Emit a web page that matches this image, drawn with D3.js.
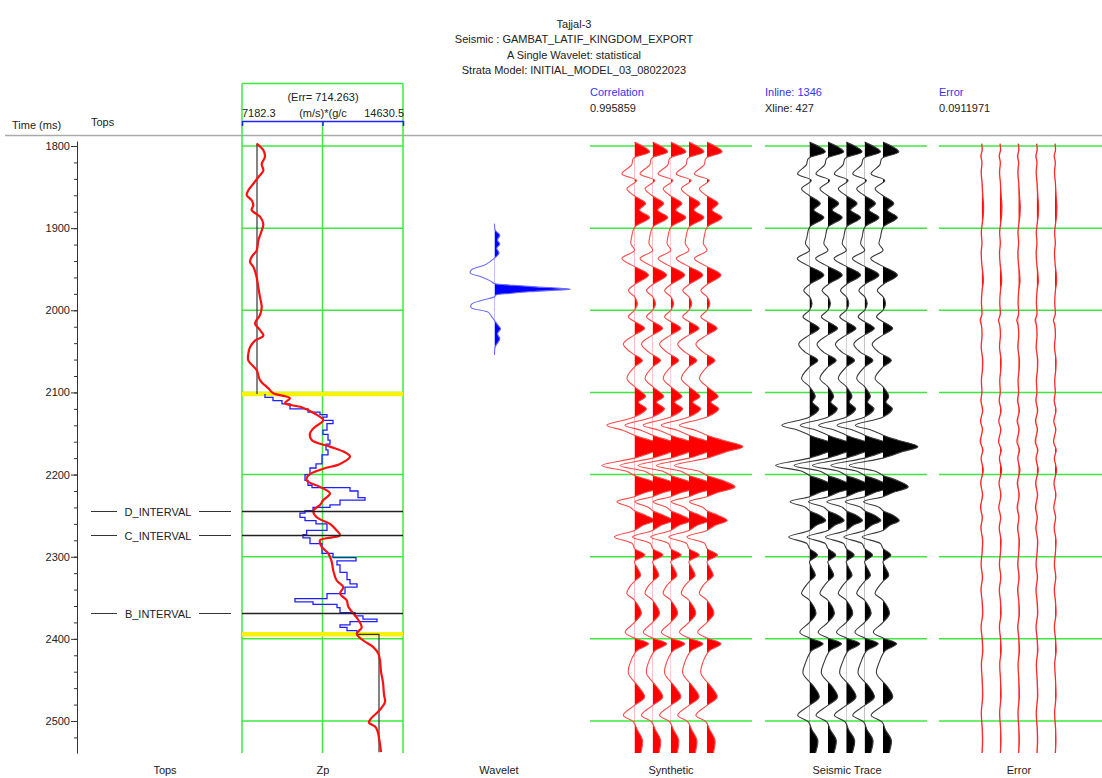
<!DOCTYPE html>
<html>
<head>
<meta charset="utf-8">
<script src="https://cdn.jsdelivr.net/npm/d3@7"></script>
<style>
  body { margin: 0; background: #fff; }
  text { font-family: "Liberation Sans", Arial, sans-serif; font-size: 11px; fill: #222; }
</style>
</head>
<body>
<div id="chart"></div>
<script>
// ---- data ----
const titleLines = ["Tajjal-3", "Seismic : GAMBAT_LATIF_KINGDOM_EXPORT", "A Single Wavelet: statistical", "Strata Model: INITIAL_MODEL_03_08022023"];
const majorTicks = [1800, 1900, 2000, 2100, 2200, 2300, 2400, 2500];
const trackNames = ["Tops", "Zp", "Wavelet", "Synthetic", "Seismic Trace", "Error"];

const topNames = ["D_INTERVAL", "C_INTERVAL", "B_INTERVAL"];
const topTimes = [2244, 2273, 2368];
const windowTimes = [2102, 2394.5];

const zpMin = 7182.3, zpMax = 14630.5, zpErr = 714.263;
const corrValue = "0.995859", inlineNo = 1346, xlineNo = 427, errValue = "0.0911971";

// inverted Zp (red)
const zpTime = [1797, 1805, 1813, 1822, 1830, 1838, 1846, 1854, 1860, 1866, 1872, 1878, 1886, 1895, 1903, 1915, 1927, 1935, 1941, 1947,
  1960, 1972, 1984, 1996, 2006, 2016, 2024, 2031, 2037, 2045, 2053, 2061, 2073, 2085, 2095, 2101, 2107, 2113, 2118, 2126,
  2134, 2142, 2150, 2158, 2166, 2172, 2178, 2187, 2193, 2201, 2207, 2215, 2223, 2231, 2237, 2244, 2252, 2260, 2268, 2274,
  2280, 2288, 2296, 2306, 2317, 2329, 2337, 2345, 2353, 2361, 2369, 2377, 2386, 2394, 2402, 2410, 2418, 2426, 2440, 2453,
  2468, 2477, 2487, 2497, 2502, 2508, 2524, 2538];
const zpInv = [7862, 8168, 8246, 8094, 8168, 7936, 7705, 7474, 7400, 7631, 7705, 7631, 8015, 8168, 8094, 7936, 7862, 7631, 7552, 7705,
  7862, 7936, 8015, 8094, 8015, 7784, 8015, 8168, 7784, 7552, 7474, 7474, 7862, 8015, 8399, 8630, 9403, 9171, 9944, 10559,
  10943, 10559, 10328, 10407, 11253, 11869, 12179, 11716, 10943, 10249, 10175, 10791, 11253, 10943, 10791, 10481, 10638, 11253, 11563, 11716,
  10791, 10869, 11174, 11332, 11406, 11563, 11869, 11716, 12026, 12100, 12331, 12563, 12720, 12489, 12794, 13256, 13488, 13566, 13613, 13705,
  13752, 13798, 13543, 13150, 13057, 13381, 13543, 13613];

// initial model inside the window (blue, blocky)
const modelTime = [2102, 2106, 2110, 2114, 2120, 2124, 2127, 2130, 2134, 2138, 2146, 2151, 2158, 2163, 2170, 2176, 2187, 2192, 2200, 2207,
  2213, 2216, 2220, 2228, 2231, 2237, 2240, 2244, 2247, 2252, 2256, 2260, 2268, 2273, 2277, 2284, 2296, 2301, 2305, 2310,
  2319, 2328, 2333, 2337, 2345, 2351, 2355, 2358, 2362, 2368, 2372, 2376, 2379, 2383, 2386, 2390, 2394.5];
const modelZp = [8246, 8616, 9033, 9403, 10236, 10791, 11114, 10929, 11392, 11114, 10929, 11161, 11253, 11068, 11161, 10883, 10606, 10328, 10097, 10236,
  10421, 12179, 12548, 12872, 11716, 11253, 10467, 10097, 9865, 10097, 10606, 11114, 10175, 10004, 10328, 10883, 11392, 12456, 11577, 11716,
  12040, 12179, 12502, 11947, 11114, 9634, 10467, 11577, 11716, 12410, 12780, 13427, 12179, 11716, 12040, 12502, 12502];

// well log outside the window (black)
const logTimeA = [1797, 2102], logZpA = [7876, 7876];
const logTimeB = [2394.5, 2394.5, 2538], logZpB = [12502, 13520, 13520];

// statistical wavelet (lag ms, normalised amplitude)
const waveLag = [-80, -72, -66, -60, -55, -50, -44, -38, -30, -24, -20, -15, -10, -7, -5, -3, -1, 0, 1, 3,
  5, 7, 9, 13, 18, 22, 28, 33, 38, 44, 48, 54, 60, 64, 70, 80];
const waveAmp = [0, 0.01, 0.07, 0.04, 0.07, 0.03, 0.06, 0, -0.12, -0.30, -0.32, -0.17, -0.05, 0, 0.25, 0.55, 0.9, 1.0, 0.8, 0.45,
  0.2, 0.02, 0, -0.15, -0.30, -0.31, -0.08, -0.04, 0, 0.05, 0.08, 0.04, 0.07, 0.05, 0.01, 0];

// synthetic and seismic traces (time ms, normalised amplitude)
const traceTime = [1795, 1807, 1815, 1823, 1834, 1842, 1852, 1860, 1870, 1878, 1887, 1899, 1911, 1919, 1927, 1937, 1945, 1957, 1968, 1976,
  1984, 1992, 2000, 2008, 2022, 2030, 2041, 2051, 2061, 2069, 2083, 2093, 2105, 2112, 2120, 2130, 2140, 2146, 2152, 2158,
  2166, 2172, 2180, 2189, 2196, 2201, 2207, 2215, 2222, 2227, 2233, 2240, 2244, 2250, 2256, 2262, 2268, 2276, 2284, 2290,
  2298, 2306, 2312, 2323, 2330, 2337, 2345, 2353, 2369, 2380, 2392, 2399, 2406, 2414, 2418, 2428, 2442, 2458, 2471, 2481,
  2493, 2501, 2511, 2523, 2540];
const synthAmp = [0, 0.42, -0.03, -0.08, -0.35, 0.06, -0.21, -0.03, 0.31, 0.14, 0.42, 0, -0.08, -0.10, 0, -0.35, -0.08, 0.39, 0.02, -0.17,
  0.01, 0.08, 0, -0.17, 0.28, 0, -0.31, -0.11, 0.22, 0, -0.21, 0, 0.31, 0.11, 0.33, 0, -0.77, -0.33, 0, 0.42,
  1.0, 0.56, 0, -0.91, -0.22, 0, 0.42, 0.78, 0.28, 0, -0.49, -0.11, 0, 0.33, 0.56, 0.22, 0, -0.56, -0.06, 0,
  0.29, 0, 0.06, 0.17, 0, -0.14, -0.21, 0, 0.19, 0, -0.26, 0, 0.39, 0.08, 0, -0.11, -0.17, 0.11, 0.28, 0,
  -0.31, -0.03, 0.08, 0.22, 0.17];
const seisAmp = [0, 0.44, -0.03, -0.09, -0.33, 0.05, -0.22, -0.02, 0.30, 0.12, 0.40, 0, -0.07, -0.11, 0, -0.34, -0.07, 0.40, 0.02, -0.16,
  0.01, 0.07, 0, -0.18, 0.27, 0, -0.30, -0.12, 0.23, 0, -0.22, 0, 0.16, 0.08, 0.26, 0, -0.77, -0.32, 0, 0.40,
  0.97, 0.55, 0, -0.94, -0.21, 0, 0.38, 0.70, 0.26, 0, -0.54, -0.10, 0, 0.30, 0.45, 0.18, 0, -0.58, -0.07, 0,
  0.22, 0, 0.05, 0.16, 0, -0.13, -0.22, 0, 0.18, 0, -0.27, 0, 0.38, 0.07, 0, -0.10, -0.18, 0.12, 0.27, 0,
  -0.33, -0.03, 0.07, 0.23, 0.16];

// error traces
const errTime = [1797, 1805, 1812, 1820, 1832, 1845, 1862, 1872, 1885, 1894, 1905, 1918, 1930, 1945, 1955, 1965, 1975, 1990, 2005, 2012,
  2018, 2030, 2045, 2060, 2072, 2085, 2100, 2110, 2122, 2135, 2145, 2160, 2170, 2180, 2195, 2210, 2225, 2240, 2252, 2265,
  2280, 2295, 2310, 2325, 2340, 2355, 2370, 2385, 2400, 2415, 2430, 2450, 2470, 2490, 2510, 2525, 2540];
const errAmp = [0, 0.014, -0.022, 0.008, -0.014, 0.011, 0.033, 0.05, 0.042, 0.017, -0.011, 0.008, -0.014, 0.006, 0.033, 0.044, 0.014, -0.008, 0.006, -0.042,
  -0.008, 0.011, -0.014, 0.028, 0.022, -0.008, 0.006, -0.022, 0.028, -0.033, 0.022, -0.039, 0.033, -0.017, 0.042, -0.028, 0.025, -0.033, 0.017, -0.022,
  0.028, 0.011, -0.017, 0.022, -0.019, 0.014, 0.028, -0.017, 0.014, 0.031, -0.008, 0.014, 0.028, -0.011, 0.017, 0.025, 0.008];

// ---- layout ----
const width = 1102, height = 778;
const plotTop = 141, plotBottom = 753;
const green = "#3ee83e";
const trackCount = 5;

const svg = d3.select("#chart").append("svg")
  .attr("width", width)
  .attr("height", height)
  .style("background", "#fff");

const y = d3.scaleLinear().domain([1800, 2500]).range([146, 721]);
const zx = d3.scaleLinear().domain([zpMin, zpMax]).range([242, 403]);
const amp = d3.scaleLinear().domain([0, 1]).range([0, 36]);
const waveX = d3.scaleLinear().domain([0, 1]).range([494.5, 570.5]);
const waveCenter = 1974.5;

const synthX = d3.scalePoint().domain(d3.range(trackCount)).range([634.5, 707]);
const seisX = d3.scalePoint().domain(d3.range(trackCount)).range([809.5, 883]);
const errX = d3.scalePoint().domain(d3.range(trackCount)).range([981.7, 1055]);

const defs = svg.append("defs");
defs.append("clipPath").attr("id", "plotclip").append("rect")
  .attr("x", 0).attr("y", plotTop).attr("width", width).attr("height", plotBottom - plotTop);

// title
svg.append("g").selectAll("text").data(titleLines).enter().append("text")
  .attr("x", 574).attr("y", (d, i) => 28 + i * 15.3)
  .attr("text-anchor", "middle")
  .text(d => d);

// header texts
svg.append("text").attr("x", 12).attr("y", 129).text("Time (ms)");
svg.append("text").attr("x", 91).attr("y", 126).text("Tops");

const blue = "#3434f0";
svg.append("text").attr("x", 590).attr("y", 96).style("fill", blue).text("Correlation");
svg.append("text").attr("x", 590).attr("y", 112).text(corrValue);
svg.append("text").attr("x", 765).attr("y", 96).style("fill", blue).text("Inline: " + inlineNo);
svg.append("text").attr("x", 765).attr("y", 112).text("Xline: " + xlineNo);
svg.append("text").attr("x", 939).attr("y", 96).style("fill", blue).text("Error");
svg.append("text").attr("x", 939).attr("y", 112).text(errValue);

// separator
svg.append("line").attr("x1", 5).attr("x2", width).attr("y1", 135.5).attr("y2", 135.5)
  .attr("stroke", "#aaa").attr("stroke-width", 1.5);

// time axis
const yAxisScale = y.copy().domain([y.invert(plotTop), y.invert(plotBottom)]).range([plotTop, plotBottom]);
svg.append("g")
  .attr("transform", "translate(77,0)")
  .call(d3.axisLeft(yAxisScale).tickValues(d3.range(1800, 2540, 20)).tickSize(3).tickSizeOuter(0).tickFormat(""))
  .call(g => g.selectAll("line,path").attr("stroke", "#333"));
svg.append("g")
  .attr("transform", "translate(77,0)")
  .call(d3.axisLeft(yAxisScale).tickValues(majorTicks).tickSize(6).tickSizeOuter(0).tickPadding(1).tickFormat(d3.format("d")))
  .call(g => g.select(".domain").remove())
  .call(g => g.selectAll("line").attr("stroke", "#333"))
  .call(g => g.selectAll("text").style("font-family", "Liberation Sans, Arial").style("font-size", "11px").attr("fill", "#333"));

// ---- Zp track ----
const zp = svg.append("g");
zp.append("line").attr("x1", 242).attr("x2", 403).attr("y1", 83.5).attr("y2", 83.5).attr("stroke", green).attr("stroke-width", 1.5);
[zpMin, (zpMin + zpMax) / 2, zpMax].forEach((v, i) => {
  zp.append("line").attr("x1", zx(v)).attr("x2", zx(v))
    .attr("y1", i === 1 ? 121 : 83.5).attr("y2", plotBottom)
    .attr("stroke", green).attr("stroke-width", 1.5);
});
zp.append("g").selectAll("line").data(majorTicks).enter().append("line")
  .attr("x1", 242).attr("x2", 403).attr("y1", d => y(d)).attr("y2", d => y(d))
  .attr("stroke", green).attr("stroke-width", 1.5);

// blue scale in the header
zp.append("g")
  .attr("transform", "translate(0,121)")
  .call(d3.axisBottom(zx).tickValues([zpMin, (zpMin + zpMax) / 2, zpMax]).tickSize(5).tickSizeOuter(0).tickFormat(""))
  .call(g => g.selectAll("line,path").attr("stroke", "#2020ff").attr("stroke-width", 1.5));
zp.append("text").attr("x", 323).attr("y", 101).attr("text-anchor", "middle").text(`(Err= ${zpErr})`);
zp.append("text").attr("x", 242).attr("y", 117).text(zpMin);
zp.append("text").attr("x", 323).attr("y", 117).attr("text-anchor", "middle").text("(m/s)*(g/c");
zp.append("text").attr("x", 404).attr("y", 117).attr("text-anchor", "end").text(zpMax);

// window markers
zp.append("g").selectAll("line").data(windowTimes).enter().append("line")
  .attr("x1", 242).attr("x2", 403).attr("y1", d => y(d)).attr("y2", d => y(d))
  .attr("stroke", "#f7f20a").attr("stroke-width", 4.5);

// tops
const tops = svg.append("g");
topTimes.forEach((t, i) => {
  const yy = Math.round(y(t)) + 0.5;
  tops.append("line").attr("x1", 91).attr("x2", 117).attr("y1", yy).attr("y2", yy).attr("stroke", "#333");
  tops.append("line").attr("x1", 199).attr("x2", 231).attr("y1", yy).attr("y2", yy).attr("stroke", "#333");
  tops.append("line").attr("x1", 242).attr("x2", 403).attr("y1", yy).attr("y2", yy).attr("stroke", "#222").attr("stroke-width", 1.3);
  tops.append("text").attr("x", 158).attr("y", yy + 4).attr("text-anchor", "middle").text(topNames[i]);
});

const zline = d3.line().x(d => zx(d[1])).y(d => y(d[0]));
const curves = zp.append("g").attr("clip-path", "url(#plotclip)");
curves.append("path").datum(logTimeA.map((t, i) => [t, logZpA[i]])).attr("d", zline)
  .attr("fill", "none").attr("stroke", "#333").attr("stroke-width", 1.2);
curves.append("path").datum(logTimeB.map((t, i) => [t, logZpB[i]])).attr("d", zline)
  .attr("fill", "none").attr("stroke", "#333").attr("stroke-width", 1.2);
curves.append("path").datum(modelTime.map((t, i) => [t, modelZp[i]]))
  .attr("d", d3.line().curve(d3.curveStepBefore).y(d => y(d[0])).x(d => zx(d[1])))
  .attr("fill", "none").attr("stroke", "#1f1fff").attr("stroke-width", 1.3);
curves.append("path").datum(zpTime.map((t, i) => [t, zpInv[i]]))
  .attr("d", zline.curve(d3.curveCatmullRom))
  .attr("fill", "none").attr("stroke", "#ff1010").attr("stroke-width", 2.2);

// ---- wiggle traces ----
let clipN = 0;
function wiggle(g, times, amps, x0, scale, fillColor, lineColor, lineWidth) {
  const id = "wclip" + (clipN++);
  defs.append("clipPath").attr("id", id).append("rect")
    .attr("x", x0).attr("y", plotTop).attr("width", 120).attr("height", plotBottom - plotTop);
  const pts = times.map((t, i) => [t, amps[i]]);
  g.append("path").datum(pts)
    .attr("d", d3.area().curve(d3.curveCatmullRom).y(d => y(d[0])).x0(x0).x1(d => x0 + scale(d[1])))
    .attr("fill", fillColor)
    .attr("clip-path", `url(#${id})`);
  g.append("path").datum(pts)
    .attr("d", d3.line().curve(d3.curveCatmullRom).x(d => x0 + scale(d[1])).y(d => y(d[0])))
    .attr("fill", "none")
    .attr("stroke", lineColor)
    .attr("stroke-width", lineWidth)
    .attr("clip-path", "url(#plotclip)");
}

// green grid for the trace tracks
const gridSpans = [[590, 752], [765, 927], [939, 1102]];
const grid = svg.append("g");
gridSpans.forEach(s => {
  grid.append("g").selectAll("line").data(majorTicks).enter().append("line")
    .attr("x1", s[0]).attr("x2", s[1]).attr("y1", d => y(d)).attr("y2", d => y(d))
    .attr("stroke", green).attr("stroke-width", 1.5);
});

const synthG = svg.append("g");
d3.range(trackCount).forEach(i => wiggle(synthG, traceTime, synthAmp, synthX(i), amp, "#ff0000", "#ff4a4a", 1.1));
const seisG = svg.append("g");
d3.range(trackCount).forEach(i => wiggle(seisG, traceTime, seisAmp, seisX(i), amp, "#000000", "#3a3a3a", 1.1));
const errG = svg.append("g");
d3.range(trackCount).forEach(i => wiggle(errG, errTime, errAmp, errX(i), amp, "#ff0000", "#ff2a2a", 1.3));

// wavelet
const wpts = waveLag.map((l, i) => [waveCenter + l, waveAmp[i]]);
const wg = svg.append("g");
defs.append("clipPath").attr("id", "waveclip").append("rect")
  .attr("x", waveX(0)).attr("y", 0).attr("width", 120).attr("height", height);
wg.append("path").datum(wpts)
  .attr("d", d3.area().curve(d3.curveCatmullRom).y(d => y(d[0])).x0(waveX(0)).x1(d => waveX(d[1])))
  .attr("fill", "#0000ff").attr("clip-path", "url(#waveclip)");
wg.append("path").datum(wpts)
  .attr("d", d3.line().curve(d3.curveCatmullRom).x(d => waveX(d[1])).y(d => y(d[0])))
  .attr("fill", "none").attr("stroke", "#6b6bff").attr("stroke-width", 1.1);

// bottom labels
const labelX = [165, 323, 499, 671, 847, 1019];
svg.append("g").selectAll("text").data(trackNames).enter().append("text")
  .attr("x", (d, i) => labelX[i]).attr("y", 774)
  .attr("text-anchor", "middle")
  .text(d => d);
</script>
</body>
</html>
